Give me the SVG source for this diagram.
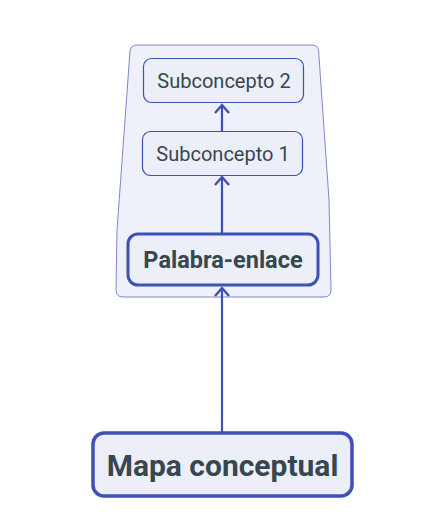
<svg xmlns="http://www.w3.org/2000/svg" width="444" height="531" viewBox="0 0 444 531">
<defs>
<style>
.box{fill:#eceef8;stroke:#3f51b5}
.thin{stroke-width:1.2}
.mid{stroke-width:3}
.thick{stroke-width:3.5}
.t{font-family:Roboto,"Liberation Sans",sans-serif;fill:#37474f;text-anchor:middle;dominant-baseline:central}
.edge{fill:none;stroke:#3f51b5;stroke-width:2.2}
</style>
<marker id="ah" viewBox="0 0 12 16" refX="10" refY="8" markerWidth="12" markerHeight="16" markerUnits="userSpaceOnUse" orient="auto">
<path d="M2,1 L10,8 L2,15" fill="none" stroke="#3f51b5" stroke-width="2.4"/>
</marker>
</defs>
<rect width="444" height="531" fill="#ffffff"/>
<g id="group">
<path d="M137,45 L312,45 Q318,45 318.6,51 L329,200 L331,290 Q331,297 324,297 L123,297 Q116,297 116,290 L117,230 L130,51 Q131,45 137,45 Z" fill="#eef0fa" stroke="#7f88c8" stroke-width="1"/>
</g>
<g id="connectors">
<path class="edge" d="M222,432 L222,288" marker-end="url(#ah)"/>
<path class="edge" d="M222,233 L222,177" marker-end="url(#ah)"/>
<path class="edge" d="M222,131 L222,105" marker-end="url(#ah)"/>
</g>
<g id="subconcepto2">
<rect class="box thin" x="143.5" y="58.5" width="160" height="44" rx="8"/>
<text class="t" x="224" y="81" font-size="20">Subconcepto 2</text>
</g>
<g id="subconcepto1">
<rect class="box thin" x="142.5" y="131.5" width="160" height="44" rx="8"/>
<text class="t" x="223" y="154" font-size="20">Subconcepto 1</text>
</g>
<g id="palabra-enlace">
<rect class="box mid" x="128" y="234" width="190" height="51" rx="10"/>
<text class="t" x="223" y="260" font-size="23.5" font-weight="bold">Palabra-enlace</text>
</g>
<g id="mapa-conceptual">
<rect class="box thick" x="93" y="433" width="259" height="63" rx="11"/>
<text class="t" x="222.5" y="465" font-size="30" font-weight="bold">Mapa conceptual</text>
</g>
</svg>
